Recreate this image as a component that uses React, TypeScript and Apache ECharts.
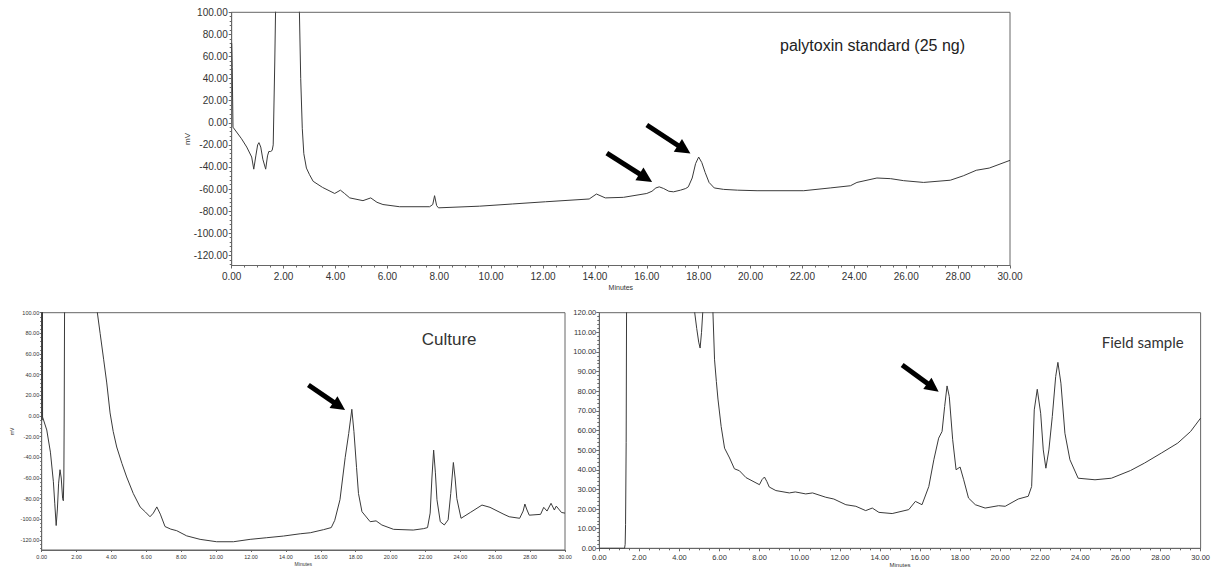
import React, { useEffect, useRef } from "react";
import * as echarts from "echarts";

// ---- Palytoxin standard (top) ----
const ptxTime = [0, 0.02, 0.05, 0.38, 0.58, 0.77, 0.85, 0.93, 1.0, 1.05, 1.12, 1.2, 1.31, 1.38, 1.43, 1.5, 1.56, 1.6, 1.66, 1.69, 1.71, 2.58, 2.61, 2.66, 2.72, 2.78, 2.88, 3.0, 3.14, 3.5, 3.97, 4.19, 4.35, 4.55, 5.06, 5.36, 5.6, 5.83, 6.47, 7.63, 7.75, 7.82, 7.9, 7.97, 9.55, 10.83, 12.1, 13.78, 14.06, 14.4, 15.1, 16.0, 16.2, 16.35, 16.48, 16.65, 16.85, 17.03, 17.3, 17.5, 17.6, 17.75, 17.88, 18.0, 18.12, 18.25, 18.4, 18.6, 18.96, 19.5, 20.25, 22.05, 23.07, 23.85, 24.1, 24.87, 25.4, 25.9, 26.67, 27.7, 28.2, 28.7, 29.2, 30];
const ptxSignal = [72, 50, -4, -14.5, -22, -31, -42, -30, -20, -18, -22, -33, -42, -30, -26, -26, -25, -20, 55, 100, 300, 300, 100, 40, -5, -28, -41, -47, -53, -58.5, -64, -61, -64, -68, -70.5, -68, -72, -74, -76, -76, -74, -66, -75, -77, -75.5, -73.5, -71.5, -69, -64.5, -68, -67.5, -64, -62, -59, -58, -59.5, -62, -62.5, -61, -59.5, -58, -50, -37, -31, -36, -45, -54, -59, -60.3, -61, -61.5, -61.5, -59, -57, -54, -50, -50.6, -52.4, -54, -52, -48, -43, -41, -34];

// ---- Culture (bottom left) ----
const cultureTime = [0, 0.02, 0.035, 0.05, 0.29, 0.5, 0.67, 0.75, 0.83, 0.9, 0.97, 1.05, 1.12, 1.2, 1.24, 1.27, 1.29, 1.31, 1.33, 3.15, 3.19, 3.35, 3.55, 3.73, 3.92, 4.1, 4.3, 4.6, 4.87, 5.25, 5.64, 5.95, 6.21, 6.4, 6.6, 6.8, 7.07, 7.4, 7.74, 8.31, 9.08, 10.03, 10.99, 11.95, 12.9, 13.86, 14.82, 15.4, 16.16, 16.6, 16.8, 17.1, 17.4, 17.6, 17.78, 17.9, 18.05, 18.16, 18.36, 18.83, 19.17, 19.5, 20.17, 21.3, 21.9, 22.12, 22.27, 22.37, 22.47, 22.57, 22.66, 22.85, 23.08, 23.3, 23.45, 23.6, 23.7, 23.8, 24.04, 24.57, 25.24, 25.7, 26.5, 26.8, 27.4, 27.6, 27.7, 27.8, 27.95, 28.6, 28.78, 28.97, 29.2, 29.39, 29.5, 29.8, 30];
const cultureSignal = [300, -4, 300, -1, -13.5, -35, -63.6, -85, -106, -90, -65, -52, -60, -80, -82, -60, 0, 100, 300, 300, 100, 80, 55, 32, 3, -15, -30, -46, -59, -75, -88, -93, -97.5, -94, -88, -95, -107, -109.5, -111, -116, -119.4, -121.7, -121.7, -119.4, -117.8, -116.2, -114, -113, -110, -108, -101, -81, -40, -17, 6.5, -15, -50, -75, -92.6, -102.3, -101.5, -105.5, -109.7, -110.4, -109, -108, -94, -60, -33, -55, -81, -102.3, -105.5, -100.5, -75, -45, -60, -80, -99, -93.4, -86.2, -88.4, -95.2, -97.5, -99, -92, -85.2, -90, -96, -95.2, -88.4, -92, -84.5, -91, -87.2, -93.4, -94];

// ---- Field sample (bottom right) ----
const fieldTime = [0, 1.26, 1.29, 1.31, 1.34, 1.36, 1.38, 4.7, 4.76, 4.86, 4.96, 5.03, 5.1, 5.16, 5.22, 5.62, 5.67, 5.75, 5.84, 5.92, 6.08, 6.25, 6.5, 6.74, 6.99, 7.32, 7.99, 8.12, 8.24, 8.36, 8.48, 8.81, 9.48, 9.78, 10.3, 10.64, 11.3, 11.7, 12.3, 12.8, 13.29, 13.62, 13.95, 14.61, 15.44, 15.77, 16.1, 16.44, 16.69, 16.93, 17.1, 17.23, 17.35, 17.46, 17.63, 17.8, 18.0, 18.18, 18.42, 18.76, 19.25, 19.92, 20.25, 20.9, 21.4, 21.57, 21.7, 21.85, 22.02, 22.15, 22.28, 22.43, 22.6, 22.77, 22.88, 23.03, 23.23, 23.48, 23.89, 24.73, 25.55, 26.5, 27.2, 28.04, 28.86, 29.5, 30];
const fieldSignal = [0, 0, 2, 12, 54, 120, 250, 250, 120, 112, 105, 102, 110, 120, 250, 250, 120, 96, 85, 76, 62, 51, 46, 40.5, 39.5, 36, 32.4, 35, 36.3, 34, 31.2, 29.4, 28.2, 28.7, 27.7, 28.2, 26, 25.1, 22.2, 21.4, 19.2, 20.5, 18.3, 17.7, 19.7, 23.9, 22.2, 31.5, 45.1, 56.1, 59.5, 72.2, 82.7, 77.3, 55.3, 40, 41.4, 34.9, 25.6, 22.2, 20.5, 21.7, 21.4, 25.1, 26.5, 31.5, 70.5, 81, 68.8, 50.1, 40.8, 50.1, 67.1, 87.5, 94.7, 84.1, 58.6, 45.1, 35.7, 34.9, 35.7, 39.6, 43.4, 48.5, 53.6, 59.5, 66.3];

// ---- Axis ticks ----
const ptxYLabels = [-120, -100, -80, -60, -40, -20, 0, 20, 40, 60, 80, 100];
const cultureYLabels = [-120, -100, -80, -60, -40, -20, 0, 20, 40, 60, 80, 100];

// ---- Arrows (data coords: [start time, start mV, end time, end mV]) ----
const ptxArrows = [
  [14.46, -27.4, 15.96, -49.9],
  [16.0, -2.0, 17.44, -24.2],
];
const cultureArrows = [[15.29, 30.0, 17.06, 9.6]];
const fieldArrows = [[15.11, 93.4, 16.65, 81.9]];

const titles = ["palytoxin standard (25 ng)", "Culture", "Field sample"];

const zip = (t: number[], v: number[]) => t.map((x, i) => [x, v[i]]);
const minorOf = (labels: number[], min: number, step: number) => {
  const out: number[] = [];
  for (let k = Math.ceil(min / step); k * step <= labels[labels.length - 1] + 1e-9; k++) {
    const val = +(k * step).toFixed(4);
    if (!labels.includes(val)) out.push(val);
  }
  return out;
};

const FONT = "Liberation Sans, Arial, sans-serif";
const AXIS_COLOR = "#666";
const LABEL_COLOR = "#333";
const LINE_COLOR = "#3a3a3a";

function arrowMarkLine(arrows: number[][], head: number) {
  return {
    silent: true,
    animation: false,
    symbol: ["none", "triangle"],
    symbolSize: head,
    itemStyle: { color: "#000" },
    lineStyle: { color: "#000", width: 5, type: "solid" },
    label: { show: false },
    emphasis: { disabled: true },
    data: arrows.map((a) => [{ coord: [a[0], a[1]] }, { coord: [a[2], a[3]] }]),
  };
}

export default function App() {
  const ref = useRef<HTMLDivElement>(null);
  useEffect(() => {
    if (!ref.current) return;
    const chart = echarts.init(ref.current, null, { renderer: "svg" });
    const fmt = (v: number) => v.toFixed(2);
    const xAxisBase = (gridIndex: number, fontSize: number, margin: number, nameSize: number, nameGap: number, tickLen: number) => ({
      type: "value",
      gridIndex,
      min: 0,
      max: 30,
      interval: 2,
      name: "Minutes",
      nameLocation: "middle",
      nameGap,
      nameMoveOverlap: false,
      nameTextStyle: { fontSize: nameSize, color: LABEL_COLOR, fontFamily: FONT },
      axisLine: { show: true, onZero: false, lineStyle: { color: AXIS_COLOR } },
      axisTick: { show: true, length: tickLen, lineStyle: { color: AXIS_COLOR } },
      minorTick: { show: true, splitNumber: 4, length: tickLen - 1, lineStyle: { color: AXIS_COLOR } },
      axisLabel: { fontSize, margin, color: LABEL_COLOR, fontFamily: FONT, formatter: fmt, showMinLabel: true, showMaxLabel: true },
      splitLine: { show: false },
    });
    const option: any = {
      animation: false,
      textStyle: { fontFamily: FONT },
      grid: [
        { left: 231.7, top: 12.3, width: 778.3, height: 253.2, show: true, borderColor: AXIS_COLOR, borderWidth: 1 },
        { left: 41.7, top: 312.7, width: 523.3, height: 237.3, show: true, borderColor: AXIS_COLOR, borderWidth: 1 },
        { left: 599.3, top: 312.7, width: 603.7, height: 235.6, show: true, borderColor: AXIS_COLOR, borderWidth: 1 },
      ],
      xAxis: [
        xAxisBase(0, 10, 6, 7, 18, 3),
        xAxisBase(1, 5.5, 4, 5, 11, 2),
        xAxisBase(2, 7.5, 5, 6, 14, 3),
      ],
      yAxis: [
        {
          type: "value", gridIndex: 0, min: -129.2, max: 100,
          name: "mV", nameLocation: "middle", nameGap: 40, nameRotate: 90, nameMoveOverlap: false,
          nameTextStyle: { fontSize: 8, color: LABEL_COLOR, fontFamily: FONT },
          axisLine: { show: true, onZero: false, lineStyle: { color: AXIS_COLOR } },
          axisTick: { show: true, length: 3, customValues: ptxYLabels, lineStyle: { color: AXIS_COLOR } },
          axisLabel: { fontSize: 10, margin: 4, color: LABEL_COLOR, fontFamily: FONT, customValues: ptxYLabels, formatter: fmt },
          splitLine: { show: false },
        },
        {
          type: "value", gridIndex: 0, min: -129.2, max: 100, position: "left",
          axisLine: { show: false, onZero: false },
          axisTick: { show: true, length: 2, customValues: minorOf(ptxYLabels, -128, 4), lineStyle: { color: AXIS_COLOR } },
          axisLabel: { show: false, customValues: [] },
          splitLine: { show: false },
        },
        {
          type: "value", gridIndex: 1, min: -129.7, max: 100,
          name: "mV", nameLocation: "middle", nameGap: 27, nameRotate: 90, nameMoveOverlap: false,
          nameTextStyle: { fontSize: 5, color: LABEL_COLOR, fontFamily: FONT },
          axisLine: { show: true, onZero: false, lineStyle: { color: AXIS_COLOR } },
          axisTick: { show: true, length: 2, customValues: cultureYLabels, lineStyle: { color: AXIS_COLOR } },
          axisLabel: { fontSize: 5.5, margin: 2.5, color: LABEL_COLOR, fontFamily: FONT, customValues: cultureYLabels, formatter: fmt },
          splitLine: { show: false },
        },
        {
          type: "value", gridIndex: 1, min: -129.7, max: 100, position: "left",
          axisLine: { show: false, onZero: false },
          axisTick: { show: true, length: 1.5, customValues: minorOf(cultureYLabels, -128, 4), lineStyle: { color: AXIS_COLOR } },
          axisLabel: { show: false, customValues: [] },
          splitLine: { show: false },
        },
        {
          type: "value", gridIndex: 2, min: 0, max: 120, interval: 10,
          axisLine: { show: true, onZero: false, lineStyle: { color: AXIS_COLOR } },
          axisTick: { show: true, length: 3, lineStyle: { color: AXIS_COLOR } },
          minorTick: { show: true, splitNumber: 5, length: 2, lineStyle: { color: AXIS_COLOR } },
          axisLabel: { fontSize: 7.5, margin: 3, color: LABEL_COLOR, fontFamily: FONT, formatter: fmt },
          splitLine: { show: false },
        },
      ],
      series: [
        {
          type: "line", xAxisIndex: 0, yAxisIndex: 0, data: zip(ptxTime, ptxSignal),
          showSymbol: false, symbol: "none", clip: true,
          lineStyle: { color: LINE_COLOR, width: 1 },
          markLine: arrowMarkLine(ptxArrows, 15),
        },
        {
          type: "line", xAxisIndex: 1, yAxisIndex: 2, data: zip(cultureTime, cultureSignal),
          showSymbol: false, symbol: "none", clip: true,
          lineStyle: { color: LINE_COLOR, width: 1 },
          markLine: arrowMarkLine(cultureArrows, 14),
        },
        {
          type: "line", xAxisIndex: 2, yAxisIndex: 4, data: zip(fieldTime, fieldSignal),
          showSymbol: false, symbol: "none", clip: true,
          lineStyle: { color: LINE_COLOR, width: 1 },
          markLine: arrowMarkLine(fieldArrows, 14),
        },
      ],
      graphic: [
        { type: "text", x: 780, y: 45, style: { text: titles[0], fontSize: 16, fontFamily: FONT, fill: "#222", textVerticalAlign: "middle" } },
        { type: "text", x: 421.7, y: 339, style: { text: titles[1], fontSize: 17, fontFamily: FONT, fill: "#333", textVerticalAlign: "middle" } },
        { type: "text", x: 1101.7, y: 342, style: { text: titles[2], fontSize: 15, fontFamily: "Lato, Open Sans, sans-serif", fill: "#333", textVerticalAlign: "middle" } },
      ],
    };
    chart.setOption(option);
    return () => chart.dispose();
  }, []);
  return (
    <div
      ref={ref}
      style={{ position: "fixed", left: 0, top: 0, width: 1213, height: 573, background: "#fff" }}
    />
  );
}
